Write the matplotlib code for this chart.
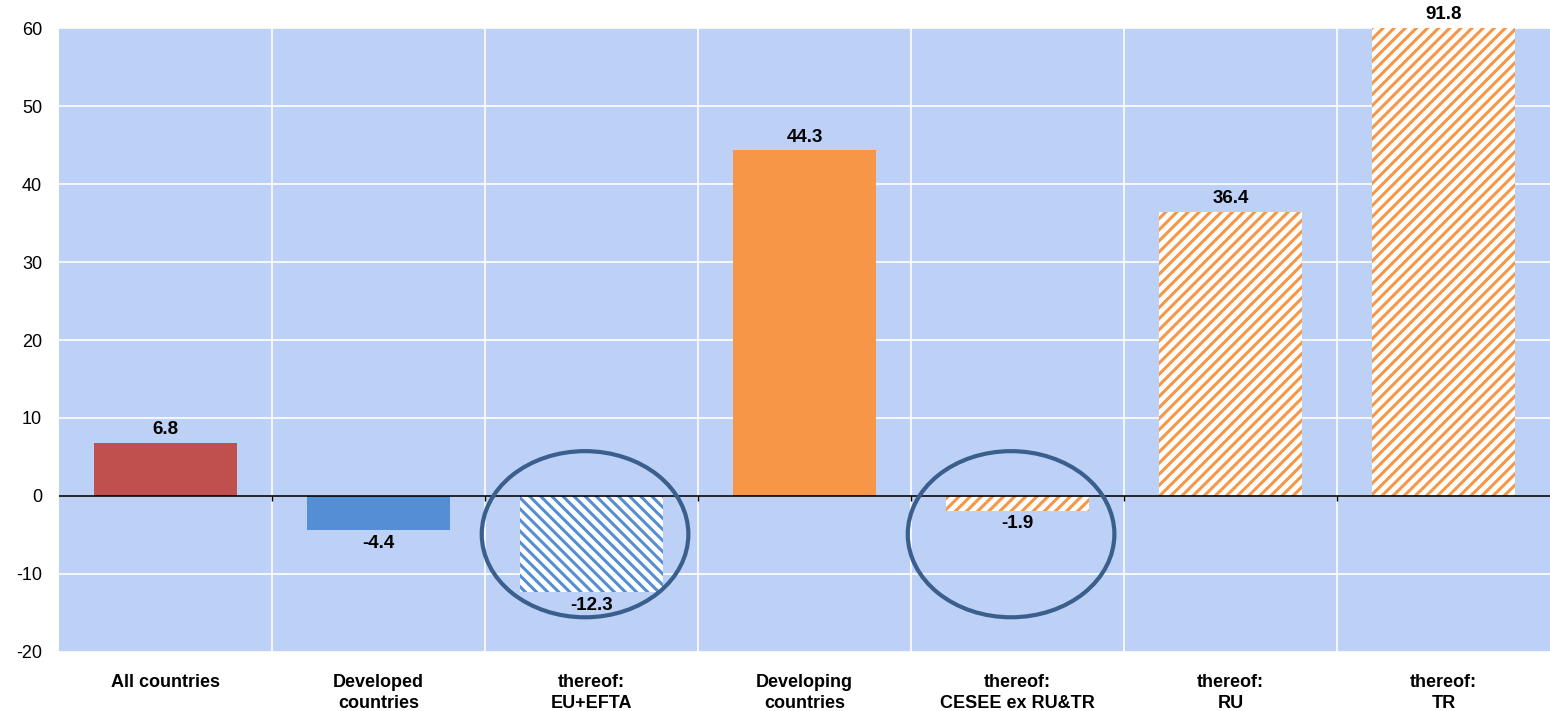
import matplotlib
matplotlib.use("Agg")
import matplotlib.pyplot as plt
from matplotlib.patches import Ellipse
import numpy as np

plt.rcParams['font.family'] = ['Liberation Sans', 'DejaVu Sans']
plt.rcParams['hatch.linewidth'] = 2.2
plt.rcParams['axes.unicode_minus'] = False

# -----------------------------
# DATA
# -----------------------------

categories = ["All countries", "Developed\ncountries", "thereof:\nEU+EFTA",
              "Developing\ncountries", "thereof:\nCESEE ex RU&TR",
              "thereof:\nRU", "thereof:\nTR"]
values = [6.8, -4.4, -12.3, 44.3, -1.9, 36.4, 91.8]
colors = ["#C0504D", "#558ED5", "#558ED5", "#F79646", "#F79646", "#F79646", "#F79646"]
hatches = [None, None, "\\\\\\", None, "///", "///", "///"]
circled = [2, 4]

y_min, y_max = -20, 60

# -----------------------------
# PLOT
# -----------------------------

fig = plt.figure(figsize=(15.5, 7.11), dpi=100)
ax = fig.add_axes([0.038, 0.083, 0.962, 0.8776])
ax.set_facecolor("#BDD1F7")

x = np.arange(len(categories))
for i, v in enumerate(values):
    if hatches[i] is None:
        ax.bar(x[i], v, width=0.67, color=colors[i], zorder=3)
    else:
        ax.bar(x[i], v, width=0.67, facecolor="white", edgecolor=colors[i],
               hatch=hatches[i], linewidth=0, zorder=3)

# value labels
for i, v in enumerate(values):
    if v >= 0:
        ax.text(x[i], min(v, y_max) + 0.6, f"{v:.1f}", ha="center", va="bottom",
                fontsize=13.5, fontweight="bold", clip_on=False, zorder=5)
    else:
        ax.text(x[i], v - 0.6, f"{v:.1f}", ha="center", va="top",
                fontsize=13.5, fontweight="bold", zorder=5)

# circles
for i in circled:
    ax.add_patch(Ellipse((x[i] - 0.03, -4.9), 0.97, 21.3, fill=False,
                         edgecolor="#3B5F8C", linewidth=3, zorder=6))

# zero line and category ticks
ax.axhline(0, color="black", linewidth=1.2, zorder=4)
bounds = np.arange(len(categories) + 1) - 0.5
ax.vlines(bounds[1:-1], -0.6, 0, color="black", linewidth=1, zorder=4)

# grid
ax.set_ylim(y_min, y_max)
ax.set_xlim(-0.5, len(categories) - 0.5)
ax.set_yticks(np.arange(y_min, y_max + 1, 10))
ax.set_xticks(bounds[1:-1], minor=True)
ax.grid(True, which="major", axis="y", color="white", linewidth=1.2, zorder=0)
ax.grid(True, which="minor", axis="x", color="white", linewidth=1.2, zorder=0)
ax.set_axisbelow(True)

ax.set_xticks(x)
ax.set_xticklabels(categories, fontsize=13, fontweight="bold", linespacing=1.3)
ax.tick_params(axis="x", which="both", length=0, pad=16)
ax.tick_params(axis="y", length=0, labelsize=13, pad=12)

for s in ax.spines.values():
    s.set_visible(False)

plt.savefig("out.png", dpi=100)
